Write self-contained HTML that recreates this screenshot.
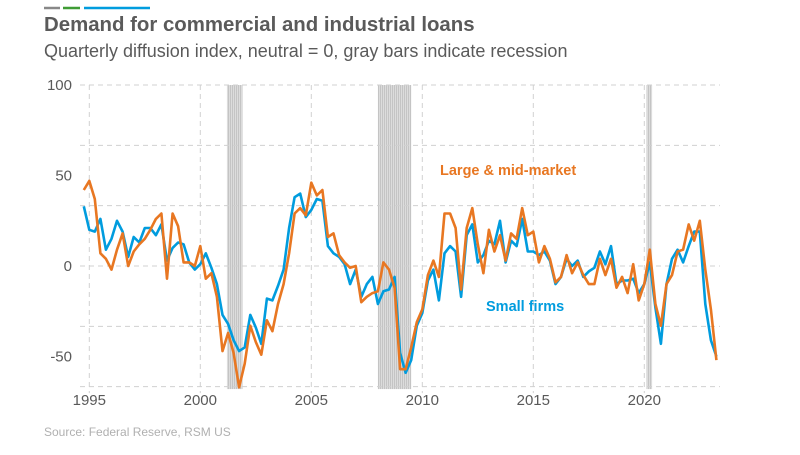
<!DOCTYPE html>
<html><head><meta charset="utf-8"><style>
body{margin:0;background:#fff;width:800px;height:450px;overflow:hidden;font-family:"Liberation Sans",sans-serif}
</style></head><body>
<svg id="c" width="800" height="450" xmlns="http://www.w3.org/2000/svg">
<defs><pattern id="stripe" width="2" height="4" patternUnits="userSpaceOnUse"><rect width="2" height="4" fill="#dcdcdc"/><rect width="1" height="4" fill="#c4c4c4"/></pattern></defs>
<line x1="44" y1="8" x2="60" y2="8" stroke="#888" stroke-width="2.5"/>
<line x1="63" y1="8" x2="80" y2="8" stroke="#3f9c35" stroke-width="2.5"/>
<line x1="84" y1="8" x2="150" y2="8" stroke="#009cde" stroke-width="2.5"/>
<text x="44" y="31" font-size="20.4" font-weight="bold" fill="#5a5a5a">Demand for commercial and industrial loans</text>
<text x="44" y="57" font-size="18" fill="#5a5a5a">Quarterly diffusion index, neutral = 0, gray bars indicate recession</text>
<g id="rec"></g><g id="grid"></g><g id="axes"></g><g id="lines"></g>
<text x="440" y="175" font-size="14.5" font-weight="bold" fill="#e87722">Large &amp; mid-market</text>
<text x="486" y="311" font-size="14.5" font-weight="bold" fill="#009cde">Small firms</text>
<text x="44" y="436" font-size="12" fill="#b0b0b0">Source: Federal Reserve, RSM US</text>
</svg>
<script>
const startYear = 1994.75;
const largeMid = [42,
47,37,7,4, -2,9,18,0, 8,12,15,20, 26,29,-7,29, 22,2,2,0, 11,-7,-4,-17,
-47,-37,-48,-67, -54,-33,-42,-49, -30,-36,-21,-10, 7,29,32,28, 46,39,42,16,
18,6,2,-1, 0,-20,-17,-15, -14,2,-2,-12, -57,-57,-45,-31, -24,-5,3,-6,
29,29,21,-13, 21,32,12,-4, 20,8,17,3, 18,15,32,17, 19,2,11,4,
-9,-6,6,-4, 2,-5,-10,-10, 4,-5,4,-12, -6,-15,1,-19, -10,9,-21,-33,
-10,-5,8,9, 23,14,25,-2, -24,-52];
const smallFirms = [33,
20,19,26,9, 15,25,19,5, 16,13,21,21, 17,23,3,10, 13,12,2,-2, 1,7,-1,-10,
-27,-32,-41,-47, -45,-27,-34,-43, -18,-19,-11,-2, 21,38,40,27, 31,37,36,11,
7,5,1,-10, -2,-17,-10,-6, -21,-14,-13,-6, -48,-59,-52,-33, -26,-8,-2,-19,
7,11,8,-17, 17,23,2,6, 14,12,25,2, 14,11,26,8, 8,6,8,3,
-10,-6,4,0, 3,-6,-3,-1, 8,1,11,-10, -8,-8,-7,-15, -10,2,-23,-43,
-10,4,9,2, 11,19,19,-21, -41,-50];
const recessions = [[2001.2,2001.9],[2008.0,2009.5],[2020.1,2020.35]];
const yTicks = [100,50,0,-50];
const yGrid = [100,66.67,33.33,0,-33.33,-66.67];
const xTicks = [1995,2000,2005,2010,2015,2020];
const X = yr => 89.3 + (yr-1995)*22.2;
const Y = v => 266 - v*1.81;
const NS = "http://www.w3.org/2000/svg";
function mk(tag, attrs, parent){const e=document.createElementNS(NS,tag);for(const k in attrs)e.setAttribute(k,attrs[k]);parent.appendChild(e);return e;}
const recG=document.getElementById('rec'), gridG=document.getElementById('grid'), axesG=document.getElementById('axes'), linesG=document.getElementById('lines');
const plotTop=Y(100), plotBot=Y(-68);
recessions.forEach(r=>{
  const e=mk('rect',{x:X(r[0]),y:plotTop,width:X(r[1])-X(r[0]),height:plotBot-plotTop,fill:'url(#stripe)'},recG);
  
  
});
yGrid.forEach(v=>{
  const e=mk('line',{x1:80,x2:720,y1:Y(v),y2:Y(v),stroke:'#d0d0d0','stroke-dasharray':'5,4','stroke-width':1},gridG);
  
  
});
xTicks.forEach(t=>{
  const e=mk('line',{x1:X(t),x2:X(t),y1:plotTop,y2:plotBot+4,stroke:'#d0d0d0','stroke-dasharray':'5,4','stroke-width':1},gridG);
  
  
  const l=mk('text',{x:X(t),y:405,'font-size':15,fill:'#595959','text-anchor':'middle'},axesG);
  l.textContent=t;
  
  
});
yTicks.forEach(v=>{
  const l=mk('text',{x:72,y:Y(v)+5,'font-size':15,fill:'#595959','text-anchor':'end'},axesG);
  l.textContent=v;
  
  
});
function series(arr,color,name){
  const d=arr.map((v,i)=>(i?'L':'M')+X(startYear+i*0.25).toFixed(1)+','+Y(v).toFixed(1)).join('');
  const p=mk('path',{d:d,fill:'none',stroke:color,'stroke-width':2.6,'stroke-linejoin':'round'},linesG);
  
  
}
series(smallFirms,'#009cde','small-firms-line');
series(largeMid,'#e87722','large-mid-market-line');
</script>
</body></html>
